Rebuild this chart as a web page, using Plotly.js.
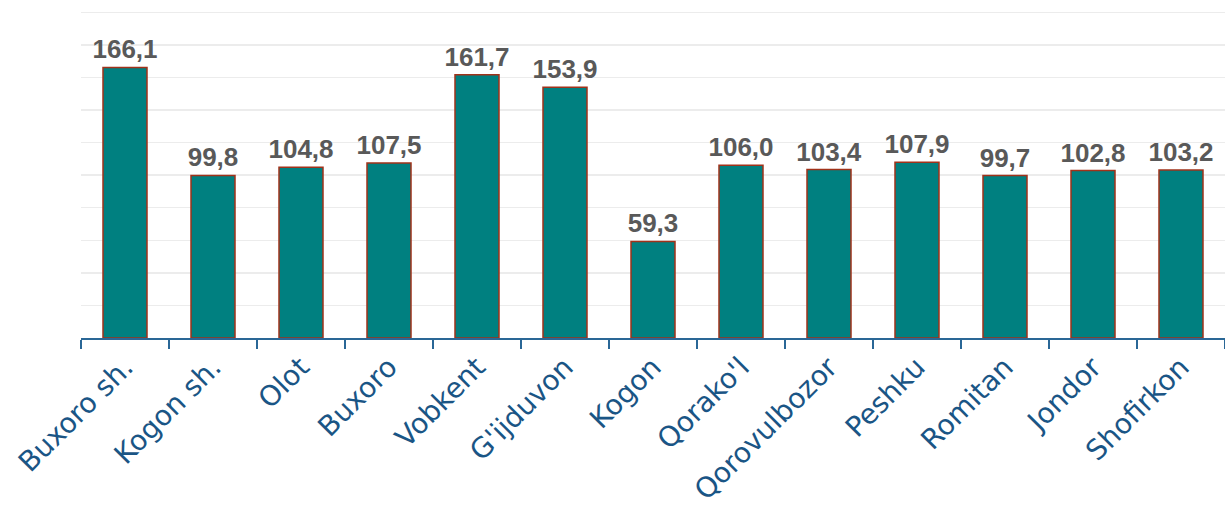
<!DOCTYPE html>
<html><head><meta charset="utf-8">
<script src="https://cdn.plot.ly/plotly-3.0.1.min.js"></script>
<style>html,body{margin:0;padding:0;background:#fff;}#chart{width:1225px;height:523px;}</style>
</head><body><div id="chart"></div>
<script>
const categories = ["Buxoro sh.", "Kogon sh.", "Olot", "Buxoro", "Vobkent", "G'ijduvon", "Kogon", "Qorako'l", "Qorovulbozor", "Peshku", "Romitan", "Jondor", "Shofirkon"];
const values = [166.1, 99.8, 104.8, 107.5, 161.7, 153.9, 59.3, 106.0, 103.4, 107.9, 99.7, 102.8, 103.2];
const labels = values.map(v => v.toFixed(1).replace('.', ','));

const trace = {
  type: 'bar', x: categories, y: values,
  text: labels, textposition: 'outside', cliponaxis: false, constraintext: 'none',
  textfont: {family: 'Liberation Sans, Arial, sans-serif', size: 26, color: '#595959', weight: 'bold'},
  marker: {color: '#008080', line: {color: '#a0321a', width: 1.5}},
  hoverinfo: 'none'
};
const layout = {
  width: 1225, height: 523,
  margin: {l: 81, r: 0, t: 8.5, b: 184.7},
  paper_bgcolor: '#fff', plot_bgcolor: '#fff',
  bargap: 0.5, showlegend: false,
  xaxis: {
    type: 'category', tickangle: -45, automargin: false,
    tickfont: {family: 'DejaVu Sans, sans-serif', size: 28, color: '#1a5585'},
    showline: true, linecolor: '#2a6796', linewidth: 1.5,
    ticks: 'outside', ticklen: 9, tickcolor: '#2a6796', tickwidth: 1.5,
    tickson: 'boundaries', showgrid: false
  },
  yaxis: {
    range: [0, 202], tick0: 0, dtick: 20, showticklabels: false,
    showgrid: true, gridcolor: '#ececec', gridwidth: 1.5,
    zeroline: false, showline: false, ticks: ''
  }
};
Plotly.newPlot('chart', [trace], layout, {staticPlot: true});
</script></body></html>
